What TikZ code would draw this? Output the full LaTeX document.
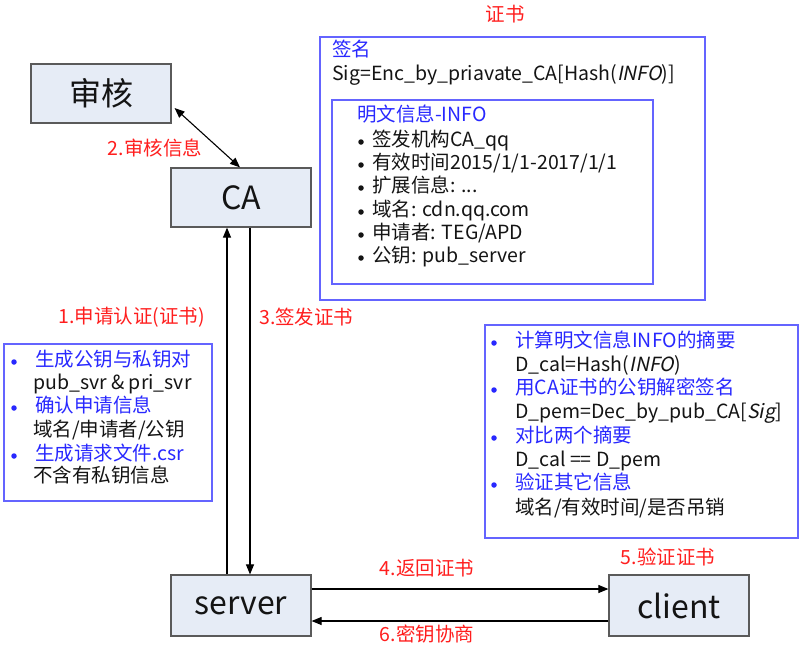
\documentclass[tikz,border=0pt]{standalone}
\usepackage{fontspec}
\setmainfont{Noto Sans CJK SC}
\newfontfamily\slfont[FakeSlant=0.2]{Noto Sans CJK SC}
\usetikzlibrary{arrows.meta}
\definecolor{boxfill}{RGB}{230,236,246}
\definecolor{boxline}{RGB}{90,90,90}
\definecolor{lblred}{RGB}{255,30,30}
\definecolor{txtblue}{RGB}{40,40,255}
\definecolor{frameblue}{RGB}{100,100,255}
\definecolor{txtblack}{RGB}{20,20,20}
\tikzset{
  mainbox/.style={draw=boxline, fill=boxfill, line width=1.2pt, minimum width=140pt, minimum height=59pt, inner sep=0pt, font=\fontsize{32}{36}\selectfont, text=txtblack},
  redlbl/.style={text=lblred, inner sep=0pt, font=\fontsize{19.5}{23}\selectfont},
  txt/.style={anchor=west, inner sep=0pt, text=txtblack, font=\fontsize{19.5}{23}\selectfont, text height=13pt, text depth=4pt},
  bluetxt/.style={txt, text=txtblue},
  bulletk/.style={circle, fill=txtblack, inner sep=0pt, minimum size=5.5pt},
  bulletb/.style={circle, fill=txtblue, inner sep=0pt, minimum size=5.5pt},
  framebox/.style={draw=frameblue, line width=1.2pt},
  arr/.style={-{Triangle[length=10pt,width=8pt]}, line width=1.1pt, draw=black},
  darr/.style={{Triangle[length=10pt,width=8pt]}-{Triangle[length=10pt,width=8pt]}, line width=1.1pt, draw=black}
}
\begin{document}
\begin{tikzpicture}[x=1pt,y=-1pt]
\useasboundingbox (0,0) rectangle (806,654);
\fill[white] (0,0) rectangle (806,654);

% main boxes
\node[mainbox] (shen) at (101,93.5) {审核};
\node[mainbox] (ca) at (241,197.5) {CA};
\node[mainbox, minimum height=61pt] (server) at (241,605.5) {server};
\node[mainbox, minimum height=61pt] (client) at (679,605.5) {client};

% connectors
\draw[darr] ([xshift=3pt,yshift=-14.5pt]shen.east) -- ([xshift=-1pt]ca.north);
\draw[arr] ([xshift=-14pt]server.north) -- ([xshift=-14pt]ca.south);
\draw[arr] ([xshift=9pt]ca.south) -- ([xshift=9pt]server.north);
\draw[arr] ([yshift=16.5pt]server.east) -- ([yshift=16.5pt]client.west);
\draw[arr] ([yshift=-15.5pt]client.west) -- ([yshift=-15.5pt]server.east);

% red labels
\node[redlbl] (lcert) at (505,14) {证书};
\node[redlbl] (l2) at (155,148) {2.审核信息};
\node[redlbl, anchor=east] (l1) at (205,317) {1.申请认证(证书)};
\node[redlbl, anchor=west] (l3) at (259,317) {3.签发证书};
\node[redlbl] (l4) at (427,568) {4.返回证书};
\node[redlbl] (l5) at (668,557) {5.验证证书};
\node[redlbl] (l6) at (427,634) {6.密钥协商};

% certificate
\draw[framebox] (320,37) rectangle (705,300);
\draw[framebox] (332,100) rectangle (653,284);
\node[bluetxt] (c0) at (332,52) {签名};
\node[txt] (c1) at (332,76) {Sig=Enc\_by\_priavate\_CA[Hash({\slfont INFO})]};
\node[bluetxt] (c2) at (357,117) {明文信息-INFO};
\node[bulletk] (cb1) at (361,142) {};
\node[txt] (ct1) at (372,142) {签发机构CA\_qq};
\node[bulletk] (cb2) at (361,165) {};
\node[txt] (ct2) at (372,165) {有效时间2015/1/1-2017/1/1};
\node[bulletk] (cb3) at (361,188) {};
\node[txt] (ct3) at (372,188) {扩展信息: ...};
\node[bulletk] (cb4) at (361,212) {};
\node[txt] (ct4) at (372,212) {域名: cdn.qq.com};
\node[bulletk] (cb5) at (361,235) {};
\node[txt] (ct5) at (372,235) {申请者: TEG/APD};
\node[bulletk] (cb6) at (361,258) {};
\node[txt] (ct6) at (372,258) {公钥: pub\_server};

% left box
\draw[framebox] (4,344) rectangle (212,501);
\node[bulletb] (lb1) at (14,362) {};
\node[bluetxt] (lt1) at (35,362) {生成公钥与私钥对};
\node[txt] (lt2) at (33,385) {pub\_svr \& pri\_svr};
\node[bulletb] (lb2) at (14,408) {};
\node[bluetxt] (lt3) at (35,408) {确认申请信息};
\node[txt] (lt4) at (33,432) {域名/申请者/公钥};
\node[bulletb] (lb3) at (14,456) {};
\node[bluetxt] (lt5) at (35,456) {生成请求文件.csr};
\node[txt] (lt6) at (33,478) {不含有私钥信息};

% right box
\draw[framebox] (485,325) rectangle (798,538);
\node[bulletb] (rb1) at (494,343) {};
\node[bluetxt] (rt1) at (515,343) {计算明文信息INFO的摘要};
\node[txt] (rt2) at (515,367) {D\_cal=Hash({\slfont INFO})};
\node[bulletb] (rb2) at (494,390) {};
\node[bluetxt] (rt3) at (515,390) {用CA证书的公钥解密签名};
\node[txt] (rt4) at (515,414) {D\_pem=Dec\_by\_pub\_CA[{\slfont Sig}]};
\node[bulletb] (rb3) at (494,438) {};
\node[bluetxt] (rt5) at (515,438) {对比两个摘要};
\node[txt] (rt6) at (515,462) {D\_cal == D\_pem};
\node[bulletb] (rb4) at (494,485) {};
\node[bluetxt] (rt7) at (515,485) {验证其它信息};
\node[txt] (rt8) at (515,510) {域名/有效时间/是否吊销};
\end{tikzpicture}
\end{document}
